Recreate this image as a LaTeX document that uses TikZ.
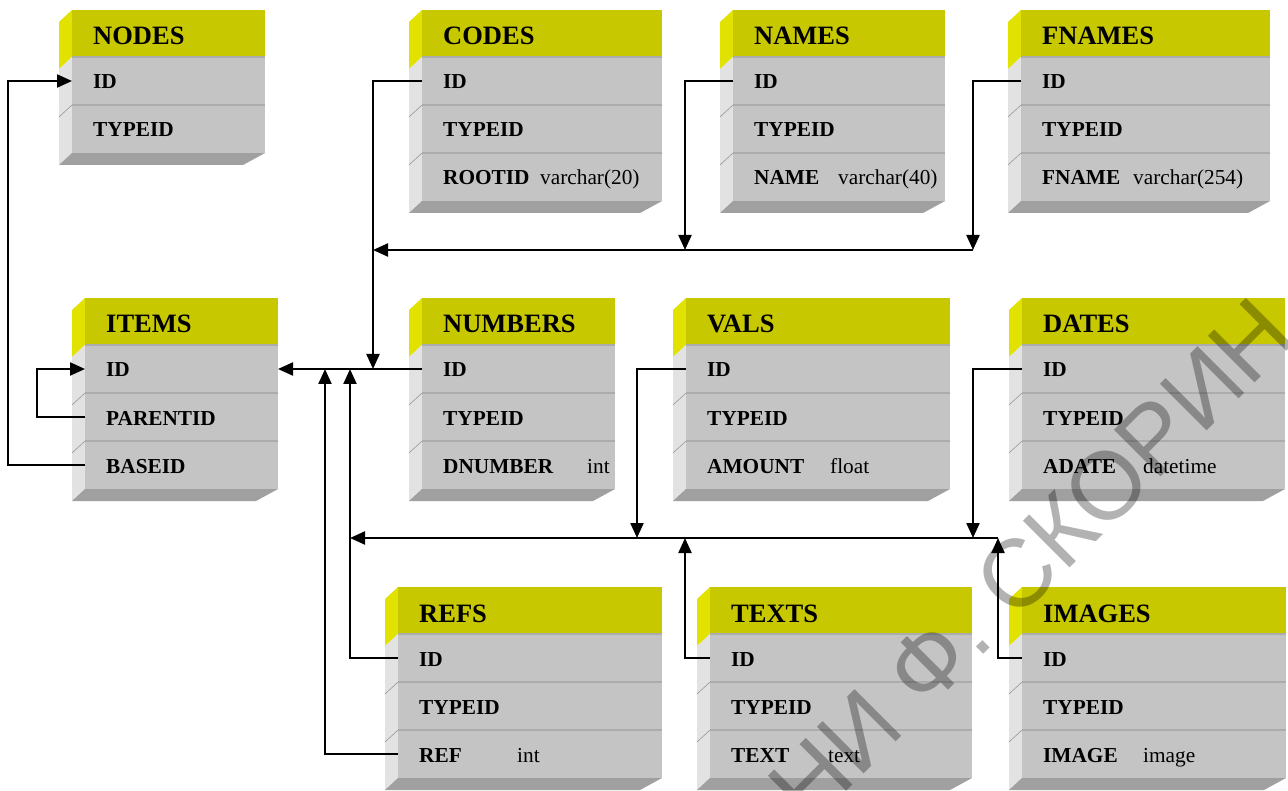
\documentclass[tikz,border=0pt]{standalone}
\usepackage{fontspec}
\setmainfont{Liberation Serif}
\newfontfamily\wmfont{Liberation Sans}
\usetikzlibrary{arrows.meta}
\definecolor{hdr}{RGB}{200,200,0}
\definecolor{hdrside}{RGB}{226,226,0}
\definecolor{rowc}{RGB}{196,196,196}
\definecolor{rowside}{RGB}{226,226,226}
\definecolor{botc}{RGB}{160,160,160}
\definecolor{sepc}{RGB}{172,172,172}
\definecolor{diagc}{RGB}{150,150,150}
\tikzset{
  hdrbox/.style={fill=hdr, draw=none, minimum height=47pt, inner sep=0pt, outer sep=0pt, anchor=north west},
  rowbox/.style={fill=rowc, draw=none, minimum height=48pt, inner sep=0pt, outer sep=0pt, anchor=north west},
  hdrtext/.style={font=\bfseries\fontsize{26.5}{26.5}\selectfont, anchor=base west, inner sep=0pt},
  fldtext/.style={font=\bfseries\fontsize{21.3}{21.3}\selectfont, anchor=base west, inner sep=0pt},
  typtext/.style={font=\fontsize{21.3}{21.3}\selectfont, anchor=base west, inner sep=0pt},
  conn/.style={line width=2.2pt, draw=black},
  arr/.style={conn, -{Triangle[length=15pt,width=13pt]}},
  wmtext/.style={font=\wmfont\fontsize{96}{100}\selectfont, text=black, text opacity=0.3, inner sep=0pt, rotate=45, anchor=base west},
}
% #1 name, #2 L, #3 T, #4 R, #5 rows, #6 header, #7 list label/type/x
\newcommand\dbtable[7]{%
  \pgfmathsetmacro\tw{#4-#2}%
  \pgfmathsetmacro\bb{#3+47+48*#5}%
  \fill[hdrside] (#2,#3) -- (#2,#3+47) -- (#2-13,#3+59) -- (#2-13,#3+12) -- cycle;
  \fill[rowside] (#2,#3+47) -- (#2,\bb) -- (#2-13,\bb+12) -- (#2-13,#3+59) -- cycle;
  \fill[botc] (#2,\bb) -- (#4,\bb) -- (#4-22,\bb+12) -- (#2-13,\bb+12) -- cycle;
  \node[hdrbox, minimum width=\tw pt] (#1-h) at (#2,#3) {};
  \node[hdrtext] (#1-t) at (#2+21,#3+35) {#6};
  \foreach \lab/\typ/\tx [count=\i] in {#7} {
    \node[rowbox, minimum width=\tw pt] (#1-\i) at (#2,#3+47+48*\i-48) {};
    \node[fldtext] (#1-\i l) at (#2+21,#3+47+48*\i-16) {\lab};
    \ifnum\tx>0 \node[typtext] (#1-\i t) at (\tx,#3+47+48*\i-16) {\typ};\fi
  }
  \foreach \k in {1,...,#5} {
    \draw[sepc, line width=1.5pt] (#2,#3+47+48*\k-48) -- (#4,#3+47+48*\k-48);
  }
  \foreach \k in {2,...,#5} {
    \draw[diagc, line width=0.6pt] (#2,#3+47+48*\k-48) -- (#2-13,#3+59+48*\k-48);
  }
}
\begin{document}
\begin{tikzpicture}[x=1pt,y=-1pt]
\useasboundingbox[fill=white] (0,0) rectangle (1288,791);

\dbtable{nodes}{72}{10}{265}{2}{NODES}{ID//0, TYPEID//0}
\dbtable{codes}{422}{10}{662}{3}{CODES}{ID//0, TYPEID//0, ROOTID/varchar(20)/540}
\dbtable{names}{733}{10}{945}{3}{NAMES}{ID//0, TYPEID//0, NAME/varchar(40)/838}
\dbtable{fnames}{1021}{10}{1270}{3}{FNAMES}{ID//0, TYPEID//0, FNAME/varchar(254)/1133}
\dbtable{items}{85}{298}{278}{3}{ITEMS}{ID//0, PARENTID//0, BASEID//0}
\dbtable{numbers}{422}{298}{615}{3}{NUMBERS}{ID//0, TYPEID//0, DNUMBER/int/587}
\dbtable{vals}{686}{298}{950}{3}{VALS}{ID//0, TYPEID//0, AMOUNT/float/830}
\dbtable{dates}{1022}{298}{1285}{3}{DATES}{ID//0, TYPEID//0, ADATE/datetime/1143}
\dbtable{refs}{398}{587}{662}{3}{REFS}{ID//0, TYPEID//0, REF/int/517}
\dbtable{texts}{710}{587}{972}{3}{TEXTS}{ID//0, TYPEID//0, TEXT/text/828}
\dbtable{images}{1022}{587}{1286}{3}{IMAGES}{ID//0, TYPEID//0, IMAGE/image/1143}

% lanes and buses
\coordinate (busU) at (0,250);
\coordinate (busL) at (0,538);
\coordinate (lA) at (373,0);
\coordinate (lN) at (685,0);
\coordinate (lF) at (973,0);
\coordinate (lV) at (637,0);
\coordinate (lD) at (973,0);
\coordinate (lT) at (685,0);
\coordinate (lI) at (998,0);
\coordinate (lR) at (350,0);
\coordinate (lQ) at (325,0);

\draw[arr] (items-3.west) -- ++(-77,0) |- (nodes-1.west);
\draw[arr] (items-2.west) -- ++(-48,0) |- (items-1.west);
\draw[arr] (numbers-1.west) -- (items-1.east);
\draw[arr] (codes-1.west) -| (lA |- items-1.east);
\draw[arr] (names-1.west) -| (lN |- busU);
\draw[arr] (fnames-1.west) -| (lF |- busU);
\draw[arr] (lF |- busU) -- (lA |- busU);
\draw[arr] (vals-1.west) -| (lV |- busL);
\draw[arr] (dates-1.west) -| (lD |- busL);
\draw[arr] (texts-1.west) -| (lT |- busL);
\draw[arr] (images-1.west) -| (lI |- busL);
\draw[arr] (lI |- busL) -- (lR |- busL);
\draw[arr] (refs-1.west) -| (lR |- items-1.east);
\draw[arr] (refs-3.west) -| (lQ |- items-1.east);

% watermark
\begin{scope}
\clip (0,0) rectangle (1288,791);
\coordinate (wm) at (809,829);
\node[wmtext] (wmark) at (wm) {НИ Ф. СКОРИН};
\end{scope}
\end{tikzpicture}
\end{document}
